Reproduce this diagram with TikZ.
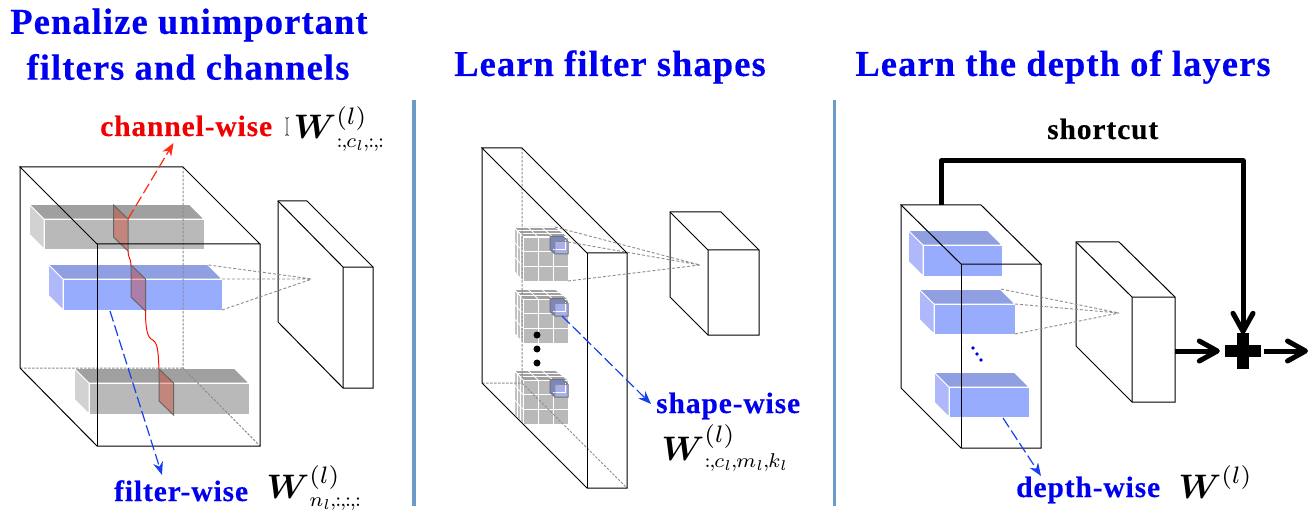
\documentclass[tikz,border=0pt]{standalone}
\usepackage{amsmath}
\usepackage{graphicx}
\usepackage{fontspec}
\setmainfont{Liberation Serif}[LetterSpace=3,BoldFeatures={FakeBold=0.3}]
\usetikzlibrary{arrows.meta}
\definecolor{txtblue}{HTML}{0000F0}
\definecolor{txtred}{HTML}{F00000}
\definecolor{divline}{HTML}{6C9BC9}
\definecolor{dashblue}{HTML}{1540F0}
\definecolor{dashred}{HTML}{FF2A10}
\definecolor{gfront}{HTML}{B9B9B9}
\definecolor{gtop}{HTML}{A0A0A0}
\definecolor{gleft}{HTML}{D2D2D2}
\definecolor{bfront}{HTML}{97ACFC}
\definecolor{btop}{HTML}{8F9FE2}
\definecolor{bleft}{HTML}{B0B8FC}
\newcommand{\ttl}{\fontsize{36.5}{40}\selectfont\bfseries}
\newcommand{\lbl}{\fontsize{29.5}{32}\selectfont\bfseries}
\newcommand{\slabbox}[7]{% x1 y1 x2 y2 dx dy colourprefix
  \fill[#7left, draw=white, line width=.8] (#1,#2) -- ++(-#5,-#6) -- ++(0,#4-#2) -- ++(#5,#6) -- cycle;
  \fill[#7top, draw=white, line width=.8] (#1,#2) -- ++(-#5,-#6) -- ++(#3-#1,0) -- ++(#5,#6) -- cycle;
  \fill[#7front, draw=white, line width=.8] (#1,#2) rectangle (#3,#4);
}
\newcommand{\sliceplane}[2]{% x y of back top
  \fill[fill=red!70!orange!85!black, fill opacity=.33, draw=black!60, draw opacity=1, line width=1] (#1,#2) -- ++(14.5,14) -- ++(0,32) -- ++(-14.5,-14) -- cycle;
}
\newcommand{\gridcube}[2]{% top left of the back corner
  \begin{scope}[shift={(#1,#2)}]
    \fill[gleft!92!black] (0,0) -- (9,10) -- (9,54) -- (0,44) -- cycle;
    \fill[gtop] (0,0) -- (41,0) -- (54,10) -- (9,10) -- cycle;
    \fill[gfront] (9,10) rectangle (54,54);
    \foreach \i in {0,1,2,3} {
      \draw[white, line width=1] (9+15*\i,10) -- (9+15*\i,54);
      \draw[white, line width=1] (9,10+14.67*\i) -- (54,10+14.67*\i);
      \draw[white, line width=.8] (13.67*\i,0) -- (9+15*\i,10);
      \draw[white, line width=.8] (3*\i,3.33*\i) -- (41+4.33*\i,3.33*\i);
      \draw[white, line width=.5] (3*\i,3.33*\i) -- (3*\i,44+3.33*\i);
      \draw[white, line width=.8] (0,14.67*\i) -- (9,10+14.67*\i);
    }
  \end{scope}
}
\newcommand{\bluecube}[2]{% top left of the outline
  \begin{scope}[shift={(#1,#2)}]
    \fill[fill=btop!85!black] (0,0) -- (13,0) -- (18,5) -- (18,17.5) -- (5,17.5) -- (0,13) -- cycle;
    \fill[fill=bleft!85!gray] (5,5) rectangle (18,17.5);
    \draw[white, line width=.7] (3,13) -- (15,13) -- (15,3);
    \draw[black!55, line width=1] (0,0) -- (13,0) -- (18,5) -- (18,17.5) -- (5,17.5) -- (0,13) -- cycle;
    \draw[black!45, line width=.6] (0,0) -- (5,5) -- (18,5) (5,5) -- (5,17.5);
  \end{scope}
}
\newcommand{\tightsub}[1]{\scalebox{.84}{$\scriptstyle #1$}}
\newcommand{\nk}{\mskip-1.3mu}
\tikzset{
  x=1pt, y=-1pt,
  divider/.style={draw=divline, line width=3.6},
  edge3d/.style={draw=black, line width=1},
  hidden3d/.style={draw=black!45, line width=1, dash pattern=on 2.5pt off 1.5pt},
  cone/.style={draw=black!45, line width=.9, dash pattern=on 3pt off 2pt},
  dashup/.style={line width=1.2, dash pattern=on 11pt off 4pt, -{Stealth[length=13pt,width=10pt]}},
  headtext/.style={text=txtblue, inner sep=0, font=\ttl},
  tagtext/.style={inner sep=0, font=\lbl, anchor=base west},
  mathtag/.style={inner sep=0, scale=3.4, anchor=base west},
  thick path/.style={line width=5, line join=round},
  barbed/.style={-{Straight Barb[round,length=18pt,width=20pt,line width=5pt]}},
  plusmark/.style={inner sep=0, minimum size=36, path picture={
    \fill (path picture bounding box.center) ++(-18,-6) rectangle ++(36,12);
    \fill (path picture bounding box.center) ++(-6,-18) rectangle ++(12,36);}},
}
\begin{document}
\begin{tikzpicture}
\useasboundingbox (0,0) rectangle (1316,521);
% titles
\node[headtext] (t1) at (189,25) {Penalize unimportant};
\node[headtext] (t2) at (188,67) {filters and channels};
\node[headtext] (t3) at (610,67) {Learn filter shapes};
\node[headtext] (t4) at (1063,67) {Learn the depth of layers};
% dividers
\coordinate (d1a) at (414,100); \coordinate (d1b) at (414,506);
\coordinate (d2a) at (834.5,100); \coordinate (d2b) at (834.5,506);
\draw[divider] (d1a) -- (d1b);
\draw[divider] (d2a) -- (d2b);

% ---------- left panel
\slabbox{44}{219}{204}{249}{14.5}{14.5}{g}
\slabbox{63}{279}{222}{310}{14.5}{14.5}{b}
\slabbox{89}{383}{249}{414}{14.5}{14.5}{g}
\sliceplane{113.5}{205}
\sliceplane{131}{265}
\sliceplane{159}{369}
\draw[hidden3d] (183,167) -- (183,368) (20,368) -- (183,368) (183,368) -- (260,446);
\draw[edge3d] (20,167) -- (183,167) -- (260,244) -- (97,244) -- cycle;
\draw[edge3d] (20,167) -- (20,368) -- (97,446) -- (260,446) -- (260,244);
\draw[edge3d] (97,244) -- (97,446);
% small box
\draw[edge3d, fill=white] (278,201) -- (307,201) -- (373,267) -- (373,388) -- (343,388) -- (278,322) -- cycle;
\draw[edge3d] (278,201) -- (343,267) -- (373,267) (343,267) -- (343,388);
\coordinate (f1) at (312,279);
\draw[cone] (208.5,265) -- (f1) (222,279) -- (f1) (222,310) -- (f1);
% wiggle
\draw[red!90!orange, line width=1] (128,251) .. controls (128,258) and (131,258) .. (131,265);
\draw[red!90!orange, line width=1] (145.5,310) .. controls (145.5,322) and (146,335) .. (151,339) .. controls (158,342) and (158,350) .. (159,369);
% arrows and labels
\coordinate (c1) at (128,219); \coordinate (c2) at (173.5,143);
\coordinate (c3) at (110,311); \coordinate (c4) at (162,475);
\draw[dashup, dashred] (c1) -- (c2);
\draw[dashup, dashblue] (c3) -- (c4);
\node[tagtext, text=txtred] (chan) at (100,136) {channel-wise};
\node[tagtext, text=txtblue] (filt) at (114,501) {filter-wise};
\node[mathtag] (wc) at (293,139) {$\boldsymbol{W}^{(l)}_{\tightsub{:\nk,\nk c_l\nk,\nk:\nk,\nk:}}$};
\node[mathtag] (wf) at (266,498) {$\boldsymbol{W}^{(l)}_{\tightsub{n_l\nk,\nk:\nk,\nk:\nk,\nk:}}$};
% I-beam cursor
\draw[black, line width=.8] (285.5,117.5) -- (287,118.5) -- (288.5,117.5) (287,118.5) -- (287,134.5) (285.5,135.5) -- (287,134.5) -- (288.5,135.5);

% ---------- middle panel
\gridcube{514}{227}
\gridcube{514}{289}
\gridcube{514}{370}
\bluecube{550}{236.5}
\bluecube{550}{298.5}
\bluecube{550}{379.5}
\draw[hidden3d] (522,148) -- (522,383) (482,383) -- (522,383) (522,383) -- (627,488);
\draw[edge3d] (482,148) -- (522,148) -- (627,253) -- (587,253) -- cycle;
\draw[edge3d] (482,148) -- (482,383) -- (587,488) -- (627,488) -- (627,253);
\draw[edge3d] (587,253) -- (587,488);
\draw[edge3d, fill=white] (670,212) -- (721,212) -- (759,250) -- (759,335) -- (708,335) -- (670,297) -- cycle;
\draw[edge3d] (670,212) -- (708,250) -- (759,250) (708,250) -- (708,335);
\coordinate (f2) at (700,265);
\draw[cone] (555,227) -- (f2) (568,242) -- (f2) (568,281) -- (f2);
\foreach \yy in {335,349,363} \fill (537,\yy) circle (3.5);
\coordinate (s1) at (562,316); \coordinate (s2) at (651,404);
\draw[dashup, dashblue] (s1) -- (s2);
\node[tagtext, text=txtblue] (shp) at (656,413) {shape-wise};
\node[mathtag] (ws) at (661,460) {$\boldsymbol{W}^{(l)}_{\tightsub{:\nk,\nk c_l\nk,\nk m_l\nk,\nk k_l}}$};

% ---------- right panel
\slabbox{923}{245}{1002}{276}{14.5}{14.5}{b}
\slabbox{934}{304}{1015}{334}{14.5}{14.5}{b}
\slabbox{949}{387}{1029}{417}{14.5}{14.5}{b}
\draw[edge3d] (901,205) -- (981,205) -- (1041,264) -- (961,264) -- cycle;
\draw[edge3d] (901,205) -- (901,388) -- (961,448) -- (1041,448) -- (1041,264);
\draw[edge3d] (961,264) -- (961,448);
\draw[edge3d, fill=white] (1076,242) -- (1119,242) -- (1175,297) -- (1175,402) -- (1132,402) -- (1076,346) -- cycle;
\draw[edge3d] (1076,242) -- (1132,297) -- (1175,297) (1132,297) -- (1132,402);
\coordinate (f3) at (1119,313);
\draw[cone] (1001,289) -- (f3) (1015,304) -- (f3) (1015,334) -- (f3);
\foreach \xx/\yy in {973/348,977/354,981/360} \fill[txtblue] (\xx,\yy) circle (1.8);
\coordinate (e1) at (1003,418); \coordinate (e2) at (1041,476);
\draw[dashup, dashblue] (e1) -- (e2);
\node[tagtext, text=txtblue] (dep) at (1016,497) {depth-wise};
\node[mathtag] (wd) at (1178,498) {$\boldsymbol{W}^{(l)}$};
\node[tagtext, text=black] (sc) at (1047,139) {shortcut};
% shortcut
\node[plusmark] (plus) at (1243,351) {};
\coordinate (o1) at (941,205); \coordinate (o2) at (1175,351); \coordinate (o3) at (1308,351);
\draw[thick path, barbed] (o1) |- (1243,161) -- ([yshift=-1pt]plus.north);
\draw[thick path, barbed] (o2) -- ([xshift=-5pt]plus.west);
\draw[thick path, barbed] ([xshift=3pt]plus.east) -- (o3);
\end{tikzpicture}
\end{document}
